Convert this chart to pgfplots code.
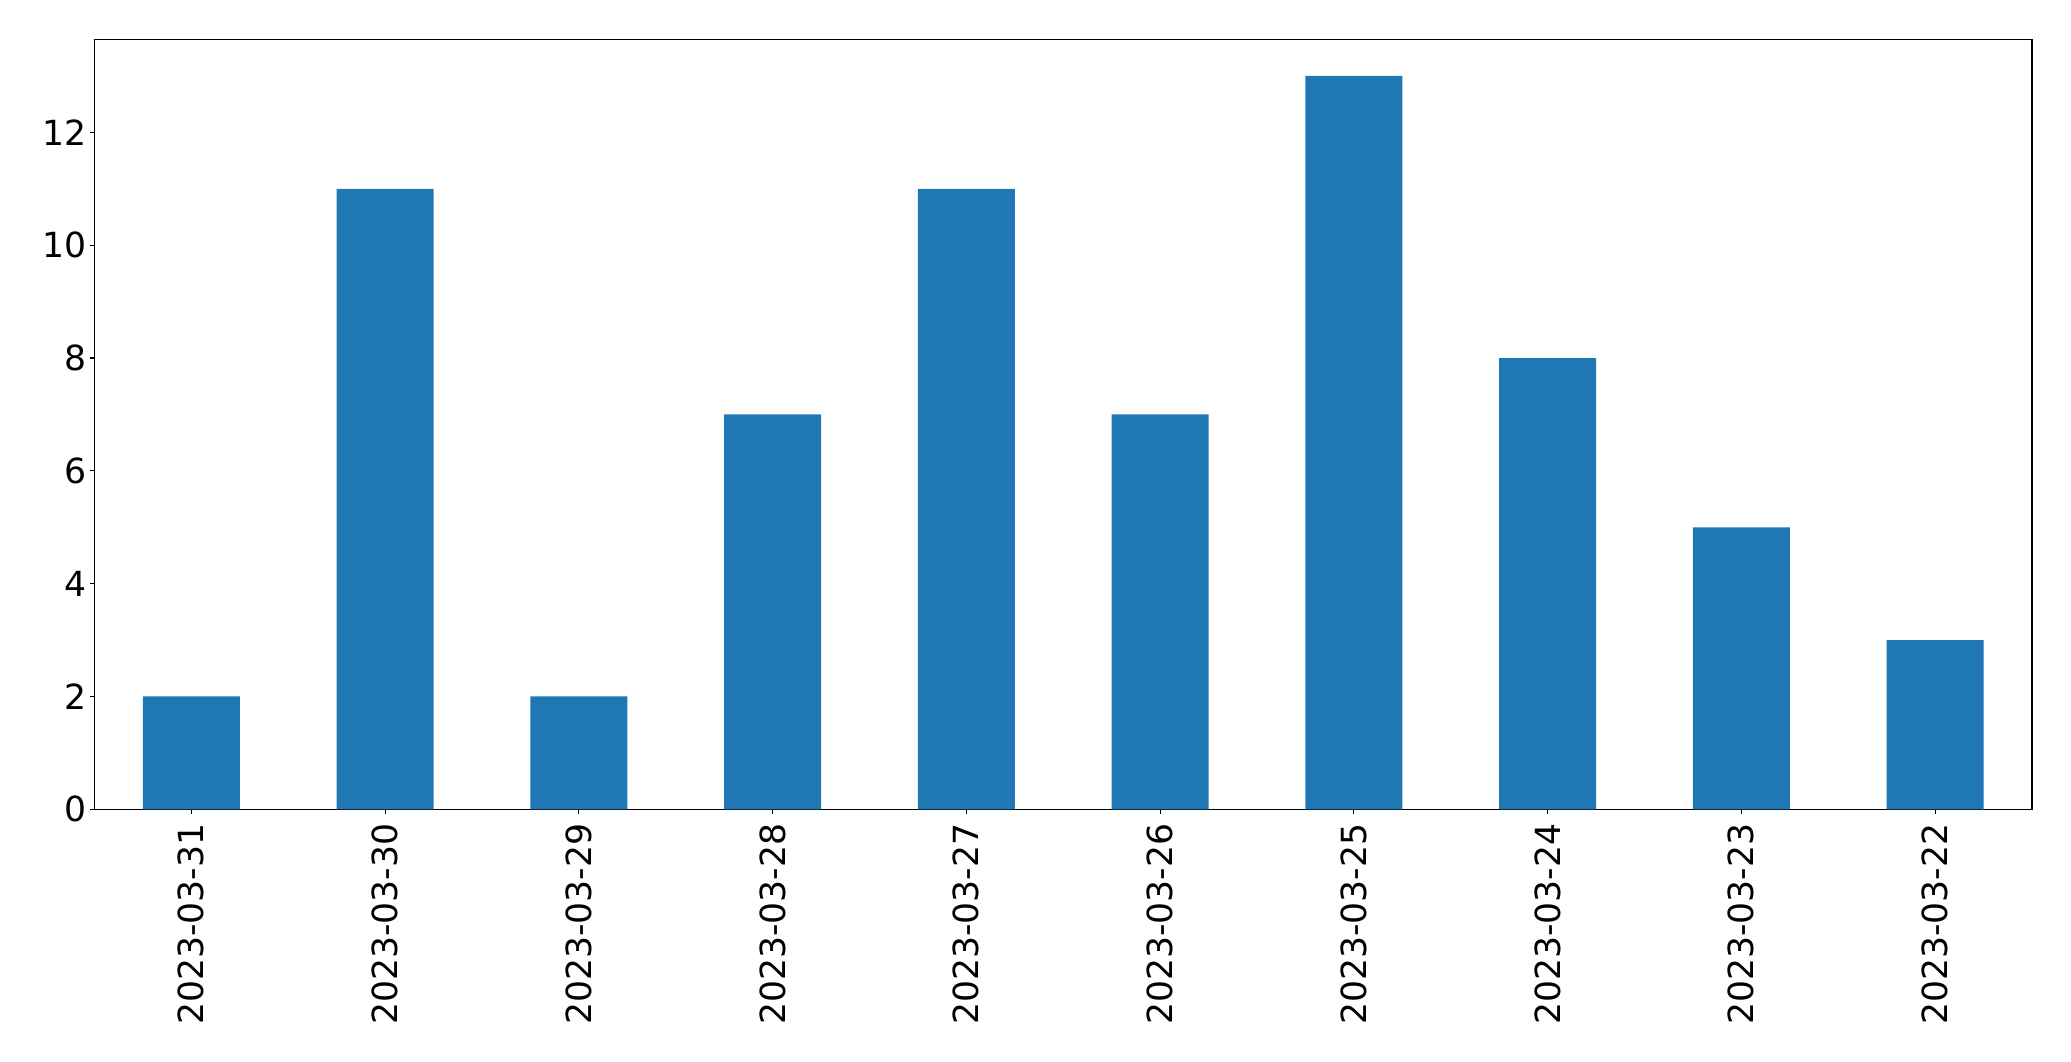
\documentclass[border=0pt]{standalone}
\usepackage{pgfplots}
\pgfplotsset{compat=1.18}
\usepackage{fontspec}
\setmainfont{DejaVu Sans}
\definecolor{mplblue}{HTML}{1F77B4}
\begin{document}
\begin{tikzpicture}
\begin{axis}[
  scale only axis,
  width=968.75pt, height=385pt,
  xmin=-0.5, xmax=9.5,
  ymin=0, ymax=13.65,
  ytick={0,2,4,6,8,10,12},
  xtick={0,1,2,3,4,5,6,7,8,9},
  xticklabels={2023-03-31,2023-03-30,2023-03-29,2023-03-28,2023-03-27,2023-03-26,2023-03-25,2023-03-24,2023-03-23,2023-03-22},
  tick align=outside,
  major tick length=2.43pt,
  tick style={black, line width=0.555pt},
  axis line style={black, line width=0.555pt},
  xtick pos=bottom, ytick pos=left,
  /pgf/number format/assume math mode=true,
  ticklabel style={font=\fontsize{17.3}{20.8}\selectfont, inner sep=0pt},
  xticklabel style={rotate=90, anchor=east},
  yticklabel style={anchor=east},
  xticklabel shift=4.5pt,
  yticklabel shift=1.5pt,
  ybar, bar width=0.5,
]
\addplot[fill=mplblue, draw=none] coordinates {
(0,2) (1,11) (2,2) (3,7) (4,11) (5,7) (6,13) (7,8) (8,5) (9,3)
};
\end{axis}
\path (-47.25pt,-125.85pt) rectangle (988.25pt,404.65pt);
\end{tikzpicture}
\end{document}
